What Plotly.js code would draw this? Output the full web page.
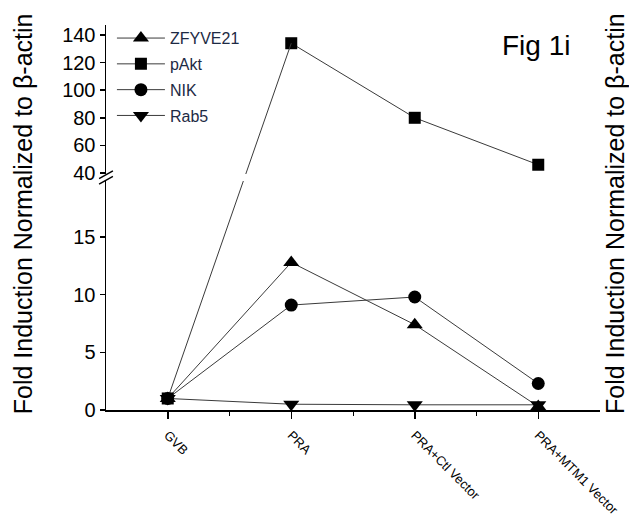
<!DOCTYPE html>
<html>
<head>
<meta charset="utf-8">
<script src="https://cdn.plot.ly/plotly-3.0.1.min.js"></script>
<style>html,body{margin:0;padding:0;background:#fff;}#chart{width:629px;height:518px;}</style>
</head>
<body>
<div id="chart"></div>
<script>
// ---- data ----
const categories = ['GVB', 'PRA', 'PRA+Ctl Vector', 'PRA+MTM1 Vector'];
const zfyve21 = [1, 12.8, 7.4, 0.3];
const pakt    = [1, 134, 80, 46];
const nik     = [1, 9.1, 9.8, 2.3];
const rab5    = [1, 0.5, 0.45, 0.45];
const lowerTicks = [0, 5, 10, 15];
const upperTicks = [40, 60, 80, 100, 120, 140];

// ---- axis geometry ----
const lowRange = [0, 19.86], lowDom = [0, 0.5948];
const upRange = [39.3, 147.2], upDom = [0.613, 1];
const xIdx = categories.map((c, i) => i);

function fracLow(v){ return lowDom[0] + (v - lowRange[0]) / (lowRange[1] - lowRange[0]) * (lowDom[1] - lowDom[0]); }
function fracUp(v){ return upDom[0] + (v - upRange[0]) / (upRange[1] - upRange[0]) * (upDom[1] - upDom[0]); }
function lowFromFrac(f){ return lowRange[0] + (f - lowDom[0]) / (lowDom[1] - lowDom[0]) * (lowRange[1] - lowRange[0]); }
function upFromFrac(f){ return upRange[0] + (f - upDom[0]) / (upDom[1] - upDom[0]) * (upRange[1] - upRange[0]); }

const lineStyle = {color: '#3a3a3a', width: 1};

// connector pAkt GVB (lower scale) -> PRA (upper scale), straight in screen space
const connLowY = [pakt[0], lowFromFrac(fracUp(pakt[1]))];
const connUpY = [upFromFrac(fracLow(pakt[0])), pakt[1]];

const traces = [
  {x: xIdx, y: zfyve21, name: 'ZFYVE21', legendgroup: 'a', mode: 'lines+markers', xaxis: 'x', yaxis: 'y',
   line: lineStyle, marker: {symbol: 'triangle-up', size: 14, color: '#000'}},
  {x: xIdx.slice(1), y: pakt.slice(1), name: 'pAkt', legendgroup: 'b', mode: 'lines+markers', xaxis: 'x', yaxis: 'y2',
   line: lineStyle, marker: {symbol: 'square', size: 12, color: '#000'}},
  {x: xIdx, y: nik, name: 'NIK', legendgroup: 'c', mode: 'lines+markers', xaxis: 'x', yaxis: 'y',
   line: lineStyle, marker: {symbol: 'circle', size: 13, color: '#000'}},
  {x: xIdx, y: rab5, name: 'Rab5', legendgroup: 'd', mode: 'lines+markers', xaxis: 'x', yaxis: 'y',
   line: lineStyle, marker: {symbol: 'triangle-down', size: 14, color: '#000'}},
  {x: xIdx.slice(0, 2), y: connLowY, mode: 'lines', xaxis: 'x', yaxis: 'y', showlegend: false,
   line: lineStyle, hoverinfo: 'skip'},
  {x: xIdx.slice(0, 2), y: connUpY, mode: 'lines', xaxis: 'x', yaxis: 'y2', showlegend: false,
   line: lineStyle, hoverinfo: 'skip'},
  {x: [xIdx[0]], y: [pakt[0]], mode: 'markers', xaxis: 'x', yaxis: 'y', showlegend: false,
   marker: {symbol: 'square', size: 12, color: '#000'}, hoverinfo: 'skip'}
];

const font = 'Liberation Sans, Arial, sans-serif';
const narrow = 'Liberation Sans Narrow, Arial Narrow, Liberation Sans, sans-serif';
const titleText = 'Fold Induction Normalized to β-actin';

const layout = {
  width: 629, height: 518,
  margin: {l: 106, r: 29, t: 25, b: 108},
  paper_bgcolor: '#fff', plot_bgcolor: '#fff',
  font: {family: font, color: '#000'},
  showlegend: true,
  legend: {x: 0.012, y: 1.01, xanchor: 'left', yanchor: 'top', bgcolor: 'rgba(0,0,0,0)',
           font: {size: 16, color: '#1d2a44', family: narrow}, tracegroupgap: 2, itemwidth: 48},
  xaxis: {
    range: [-0.5, 3.5], anchor: 'y', showgrid: false, zeroline: false,
    showline: true, linecolor: '#000', linewidth: 1.5,
    tickmode: 'array', tickvals: xIdx, ticktext: categories, tickangle: 45,
    ticks: 'outside', ticklen: 7, tickwidth: 1.5, tickcolor: '#000',
    tickfont: {size: 13, family: narrow, color: '#000'}, ticklabelstandoff: 4,
    minor: {tickmode: 'array', tickvals: [0.5, 1.5, 2.5], ticks: 'outside', ticklen: 4, tickwidth: 1, tickcolor: '#000'}
  },
  yaxis: {
    domain: lowDom, range: lowRange, anchor: 'x', showgrid: false, zeroline: false,
    showline: true, linecolor: '#000', linewidth: 1.5,
    tickmode: 'array', tickvals: lowerTicks,
    ticks: 'outside', ticklen: 5, tickwidth: 1.5, tickcolor: '#000',
    tickfont: {size: 20, family: font, color: '#000'}
  },
  yaxis2: {
    domain: upDom, range: upRange, anchor: 'x', showgrid: false, zeroline: false,
    showline: true, linecolor: '#000', linewidth: 1.5,
    tickmode: 'array', tickvals: upperTicks,
    ticks: 'outside', ticklen: 5, tickwidth: 1.5, tickcolor: '#000',
    tickfont: {size: 20, family: font, color: '#000'}
  },
  annotations: [
    {text: titleText, xref: 'paper', yref: 'paper', x: -0.2, y: 0.509, xanchor: 'left', yanchor: 'middle', textangle: -90,
     showarrow: false, font: {size: 25, family: font, color: '#000'}},
    {text: titleText, xref: 'paper', yref: 'paper', x: 0.998, y: 0.509, xanchor: 'left', yanchor: 'middle', textangle: -90,
     showarrow: false, font: {size: 25, family: font, color: '#000'}},
    {text: 'Fig 1i', xref: 'paper', yref: 'paper', x: 0.87, y: 0.948, xanchor: 'center', yanchor: 'middle',
     showarrow: false, font: {size: 28, family: font, color: '#000'}}
  ],
  shapes: [
    {type: 'line', xref: 'paper', yref: 'paper', x0: -0.014, y0: lowDom[1] - 0.008, x1: 0.014, y1: lowDom[1] + 0.012,
     line: {color: '#000', width: 1.5}},
    {type: 'line', xref: 'paper', yref: 'paper', x0: -0.014, y0: upDom[0] - 0.012, x1: 0.014, y1: upDom[0] + 0.008,
     line: {color: '#000', width: 1.5}}
  ]
};

Plotly.newPlot('chart', traces, layout, {displayModeBar: false, staticPlot: true});
</script>
</body>
</html>
